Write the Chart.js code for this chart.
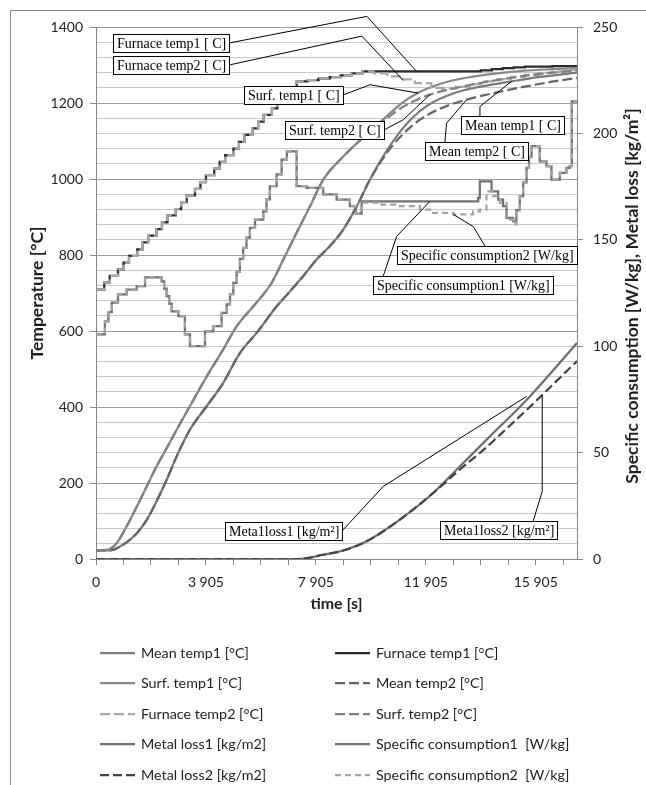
<!DOCTYPE html>
<html><head><meta charset="utf-8">
<script src="https://cdn.jsdelivr.net/npm/chart.js@4.4.1/dist/chart.umd.min.js"></script>
<style>
html,body{margin:0;padding:0;background:#fff;}
#wrap{position:relative;width:646px;height:785px;overflow:hidden;background:#fff;}
#frame{position:absolute;left:10px;top:10px;width:700px;height:800px;border-left:1px solid #8c8c8c;border-top:1px solid #8c8c8c;}
#c{position:absolute;left:0;top:0;}
.lg{position:absolute;font-family:Lato,"Open Sans",sans-serif;font-size:14.3px;color:#1e1e1e;white-space:nowrap;line-height:18px;}
.lg svg{position:absolute;left:-41px;top:4px;}
</style></head>
<body><div id="wrap"><div id="frame"></div><canvas id="c" width="646" height="785"></canvas><div id="legend"></div></div>
<script>
// ---------- data (time in s; temperatures in °C; right axis W/kg and kg/m2) ----------
const xTickLabels = ['0', '3 905', '7 905', '11 905', '15 905'];

const furnaceRiseTime = [0,205,405,705,905,1105,1405,1605,1805,2105,2305,2505,2805,3005,3205,3505,3705,3905,4205,4405,4605,4905,5105,5305,5605,5805,6005,6305,6505,6705,7005,7205,7605,8005,8405,8805,9205,9605];
const furnaceRiseTemp = [709,727,745,762,780,798,815,833,851,868,886,904,921,939,957,974,992,1010,1027,1045,1063,1080,1098,1116,1133,1151,1169,1186,1204,1222,1239,1257,1260,1264,1268,1273,1278,1283];
const furnace1TailTime = [13605,13905,14305,14705,15105,15505,16505,17405];
const furnace1TailTemp = [1283,1286,1289,1292,1294,1296,1297,1298];
const furnace2TailTime = [10005,10505,11005,11505,12105,12505,13005,13505,14005,14505,15005,15505,16005,16505,17005,17405];
const furnace2TailTemp = [1278,1270,1262,1252,1240,1238,1243,1250,1257,1263,1269,1274,1279,1283,1287,1290];

const surfCommonTime = [0,350,660,1020,1390,1750,2110,2480,2840,3320,3930,4530,5020,5630,6290,6720,7200,7690,8170,8900,9870];
const surfCommonTemp = [23,25,42,86,138,191,244,292,340,402,480,551,612,665,726,788,858,928,998,1059,1125];
const surf1TailTime = [10405,11005,11625,12505,13505,14505,15505,16505,17405];
const surf1TailTemp = [1160,1198,1227,1252,1268,1278,1285,1289,1292];
const surf2TailTime = [10405,11005,11505,12055,13005,14005,15005,16005,17405];
const surf2TailTemp = [1155,1187,1206,1222,1240,1254,1266,1276,1286];

const meanCommonTime = [0,410,900,1390,1750,2110,2480,2840,3320,3930,4530,5140,5750,6480,6960,7440,7930,8410,8900,9390,9870];
const meanCommonTemp = [23,23,38,68,103,152,209,270,340,402,463,542,595,665,704,744,788,823,867,928,998];
const mean1TailTime = [10400,10900,11400,12000,12900,13900,15030,16000,17405];
const mean1TailTemp = [1065,1118,1160,1195,1225,1243,1257,1268,1280];
const mean2TailTime = [10400,10900,11400,12000,12700,13390,14500,15500,16500,17405];
const mean2TailTemp = [1060,1105,1140,1170,1193,1209,1228,1243,1256,1266];

const metalCommonTime = [0,7260,8170,8900,9750,10960,12170];
const metalCommonLoss = [0,0,2,4,8.3,18.5,31];
const metal1TailTime = [13140,14110,15690,17405];
const metal1TailLoss = [43.5,56,76.4,101.5];
const metal2TailTime = [13140,14110,14480,15690,17405];
const metal2TailLoss = [42,52.5,56.9,71.5,93];

const specCommonTime = [0,230,355,480,705,1020,1385,1690,2295,2385,2475,2570,2660,2900,3140,3325,3870,4170,4475,4660,4780,4900,5020,5140,5260,5380,5505,5690,5990,6110,6230,6475,6660,6850,7205,7565,8170,8660,9140,9360];
const specCommonCons = [105.5,111.7,116,120.5,124.3,126.6,128.2,132.3,130.5,127,123.5,120,116.4,114.1,105.5,100,107,109.4,115.7,119.6,124.5,129.8,135,141,146.2,151,155.6,159.5,163.4,169,175.2,180.7,187.7,191.5,175.2,174.4,171.3,168.9,165.8,162.3];
const spec1MidTime = [9570,13810,13870,14295,14535,14715,14840,15080];
const spec1MidCons = [168.1,169.7,177.5,172.8,168.9,165.8,160.3,158.7];
const spec2MidTime = [9570,10300,10960,11690,12170,12900,13625,13870,14110,14350,14595,14840,15080];
const spec2MidCons = [167.5,166.5,165.8,164.2,162.7,161.9,163.4,164.2,172.8,170.5,167.4,159.5,157.2];
const specEndTime = [15200,15325,15445,15570,15660,15750,16050,16295,16475,16780,17020,17140,17215,17405];
const specEndCons = [164,170.5,177,183.8,189,194,186.9,184.6,178.3,181.5,183.8,184.6,215.1,215.1];

// callout boxes: box anchor (time, °C), leader path points (time, value, axis)
const callouts = [
  {text:'Furnace temp1 [ C]', box:[512,1382], attach:'right', path:[[9763,1428,'y'],[11571,1283,'y']]},
  {text:'Furnace temp2 [ C]', box:[512,1323], attach:'right', path:[[9581,1376,'y'],[11084,1259.5,'y']]},
  {text:'Surf. temp1 [ C]', box:[5300,1245.5], attach:'right', path:[[9872,1248,'y'],[11629,1226,'y']]},
  {text:'Surf. temp2 [ C]', box:[6780,1151.6], attach:'right', path:[[11084,1156,'y'],[12055,1222,'y']]},
  {text:'Mean temp1 [ C]', box:[13183,1164.7], attach:13874, path:[[13874,1191,'y'],[15027,1257,'y']]},
  {text:'Mean temp2 [ C]', box:[11873,1097], attach:12600, path:[[12662,1147,'y'],[13390,1209,'y']]},
  {text:'Specific consumption2 [W/kg]', box:[10843,822.6], attach:14056, path:[[13630,875,'y'],[12903,161.9,'y1']]},
  {text:'Specific consumption1 [W/kg]', box:[9970,743.7], attach:10356, path:[[10843,849,'y'],[12055,168.1,'y1']]},
  {text:'Meta1loss1 [kg/m\u00b2]', box:[4598,96.3], attach:'right', path:[[10356,191,'y'],[15573,76.4,'y1']]},
  {text:'Meta1loss2 [kg/m\u00b2]', box:[12419,99], attach:15813, path:[[16140,178,'y'],[16140,77,'y1']]}
];

// ---------- helpers ----------
function toIdx(t){ return t <= 0 ? 0 : (t + 95) / 100; } // category index (0, 5 s, then 100 s steps)
function pts(times, vals){ return times.map((t,i)=>({x:toIdx(t), y:vals[i]})); }
function cat(){ const o=[]; for(let i=0;i<arguments.length;i+=2){ o.push(...pts(arguments[i],arguments[i+1])); } return o; }

const datasets = [
  {label:'Mean temp1 [°C]', data:cat(meanCommonTime,meanCommonTemp,mean1TailTime,mean1TailTemp), yAxisID:'y', borderColor:'#7a7a7a', borderDash:[], cubicInterpolationMode:'monotone', order:10},
  {label:'Furnace temp1 [°C]', data:cat(furnaceRiseTime,furnaceRiseTemp,furnace1TailTime,furnace1TailTemp), yAxisID:'y', borderColor:'#2b2b2b', borderDash:[], stepped:true, order:9},
  {label:'Surf. temp1 [°C]', data:cat(surfCommonTime,surfCommonTemp,surf1TailTime,surf1TailTemp), yAxisID:'y', borderColor:'#888888', borderDash:[], cubicInterpolationMode:'monotone', order:8},
  {label:'Mean temp2 [°C]', data:cat(meanCommonTime,meanCommonTemp,mean2TailTime,mean2TailTemp), yAxisID:'y', borderColor:'#666666', borderDash:[10,4], cubicInterpolationMode:'monotone', order:7},
  {label:'Furnace temp2 [°C]', data:cat(furnaceRiseTime,furnaceRiseTemp,furnace2TailTime,furnace2TailTemp), yAxisID:'y', borderColor:'#a8a8a8', borderDash:[10,4], stepped:true, order:6},
  {label:'Surf. temp2 [°C]', data:cat(surfCommonTime,surfCommonTemp,surf2TailTime,surf2TailTemp), yAxisID:'y', borderColor:'#808080', borderDash:[10,4], cubicInterpolationMode:'monotone', order:5},
  {label:'Metal loss1 [kg/m2]', data:cat(metalCommonTime,metalCommonLoss,metal1TailTime,metal1TailLoss), yAxisID:'y1', borderColor:'#6e6e6e', borderDash:[], cubicInterpolationMode:'monotone', order:4},
  {label:'Specific consumption1  [W/kg]', data:cat(specCommonTime,specCommonCons,spec1MidTime,spec1MidCons,specEndTime,specEndCons), yAxisID:'y1', borderColor:'#707070', borderDash:[], stepped:true, order:3},
  {label:'Metal loss2 [kg/m2]', data:cat(metalCommonTime,metalCommonLoss,metal2TailTime,metal2TailLoss), yAxisID:'y1', borderColor:'#454545', borderDash:[9,4], cubicInterpolationMode:'monotone', order:2},
  {label:'Specific consumption2  [W/kg]', data:cat(specCommonTime,specCommonCons,spec2MidTime,spec2MidCons,specEndTime,specEndCons), yAxisID:'y1', borderColor:'#a3a3a3', borderDash:[6,4], stepped:true, order:1}
];
datasets.forEach(d=>{ d.borderWidth = 2.25; d.pointRadius = 0; d.fill = false; });

const calloutPlugin = {
  id:'callouts',
  afterDatasetsDraw(chart){
    const {ctx} = chart; const sx = chart.scales.x;
    ctx.save();
    ctx.font = '14px "Liberation Serif", "DejaVu Serif", serif';
    ctx.lineWidth = 1; ctx.strokeStyle = '#000';
    callouts.forEach(a=>{
      const bx = Math.round(sx.getPixelForValue(toIdx(a.box[0])));
      const by = Math.round(chart.scales.y.getPixelForValue(a.box[1]));
      const w = Math.round(ctx.measureText(a.text).width + 7);
      const h = 18;
      const p = [];
      if (a.attach === 'right') p.push([bx + w, by + h/2]);
      else p.push([sx.getPixelForValue(toIdx(a.attach)), by]);
      a.path.forEach(q=>p.push([sx.getPixelForValue(toIdx(q[0])), chart.scales[q[2]].getPixelForValue(q[1])]));
      ctx.beginPath(); ctx.moveTo(p[0][0], p[0][1]);
      for (let i=1;i<p.length;i++) ctx.lineTo(p[i][0], p[i][1]);
      ctx.stroke();
      ctx.fillStyle = '#fff'; ctx.fillRect(bx, by, w, h);
      ctx.strokeRect(bx + 0.5, by + 0.5, w, h);
      ctx.fillStyle = '#000'; ctx.textAlign = 'left'; ctx.textBaseline = 'middle';
      ctx.fillText(a.text, bx + 4, by + h/2 + 1);
    });
    ctx.restore();
  },
  afterDraw(chart){
    const {ctx} = chart;
    ctx.save();
    ctx.translate(632, 296);
    ctx.rotate(-Math.PI/2);
    ctx.font = 'bold 17.5px Lato, "Open Sans", sans-serif';
    ctx.fillStyle = '#1e1e1e'; ctx.textAlign = 'center'; ctx.textBaseline = 'middle';
    ctx.fillText('Specific consumption [W/kg], Metal loss [kg/m\u00b2]', 0, 0);
    ctx.restore();
  }
};

const tickFont = {family:'Lato', size:14};
const titleFont = {family:'Lato', size:16, weight:'bold'};
const yTitleFont = {family:'Lato', size:17.5, weight:'bold'};

new Chart(document.getElementById('c'), {
  type:'line',
  data:{datasets},
  options:{
    responsive:false, animation:false, devicePixelRatio:1,
    layout:{padding:{top:27, left:0, right:0, bottom:145}},
    plugins:{legend:{display:false}, tooltip:{enabled:false}},
    scales:{
      x:{type:'linear', min:0, max:175, afterFit(s){ s.height = 81; },
        grid:{drawOnChartArea:false, drawTicks:true, tickLength:6, color:'#868686'},
        border:{color:'#868686', width:1},
        ticks:{stepSize:10, autoSkip:false, includeBounds:false, maxRotation:0, padding:9, color:'#1e1e1e', font:tickFont,
          callback:(v)=> (v % 40 === 0 ? xTickLabels[v/40] : '')},
        title:{display:true, text:'time [s]', font:titleFont, color:'#1e1e1e', padding:{top:0, bottom:27}}},
      y:{position:'left', min:0, max:1400, afterFit(s){ s.width = 96; },
        grid:{color:(c)=> (c.tick && c.tick.value % 200 === 0 ? '#9c9c9c' : '#c8c8c8'),
              tickColor:(c)=> (c.tick && c.tick.value % 200 === 0 ? '#868686' : 'rgba(0,0,0,0)'), tickLength:6},
        border:{color:'#868686', width:1},
        ticks:{stepSize:40, autoSkip:false, padding:7, color:'#1e1e1e', font:tickFont,
          callback:(v)=> (v % 200 === 0 ? String(v) : '')},
        title:{display:true, text:'Temperature [°C]', font:yTitleFont, color:'#1e1e1e', padding:{top:27, bottom:0}}},
      y1:{position:'right', min:0, max:250, afterFit(s){ s.width = 69; },
        grid:{drawOnChartArea:false, tickLength:6, color:'#868686'},
        border:{color:'#868686', width:1},
        ticks:{stepSize:50, autoSkip:false, padding:10, color:'#1e1e1e', font:tickFont, callback:(v)=>String(v)}}
    }
  },
  plugins:[calloutPlugin]
});

// ---------- legend (two columns, row-major order) ----------
const legendEl = document.getElementById('legend');
const colX = [141, 376];
const rowY = [653, 683, 714, 744, 775];
datasets.forEach((d,i)=>{
  const div = document.createElement('div');
  div.className = 'lg';
  div.style.left = colX[i % 2] + 'px';
  div.style.top = (rowY[Math.floor(i/2)] - 9) + 'px';
  const dash = d.borderDash.length ? ` stroke-dasharray="${d.borderDash.join(',')}"` : '';
  div.innerHTML = `<svg width="35" height="10"><line x1="0" y1="5" x2="35" y2="5" stroke="${d.borderColor}" stroke-width="2.25"${dash}/></svg>` + d.label.replace(/  /g,' \u00a0');
  legendEl.appendChild(div);
});
</script></body></html>
